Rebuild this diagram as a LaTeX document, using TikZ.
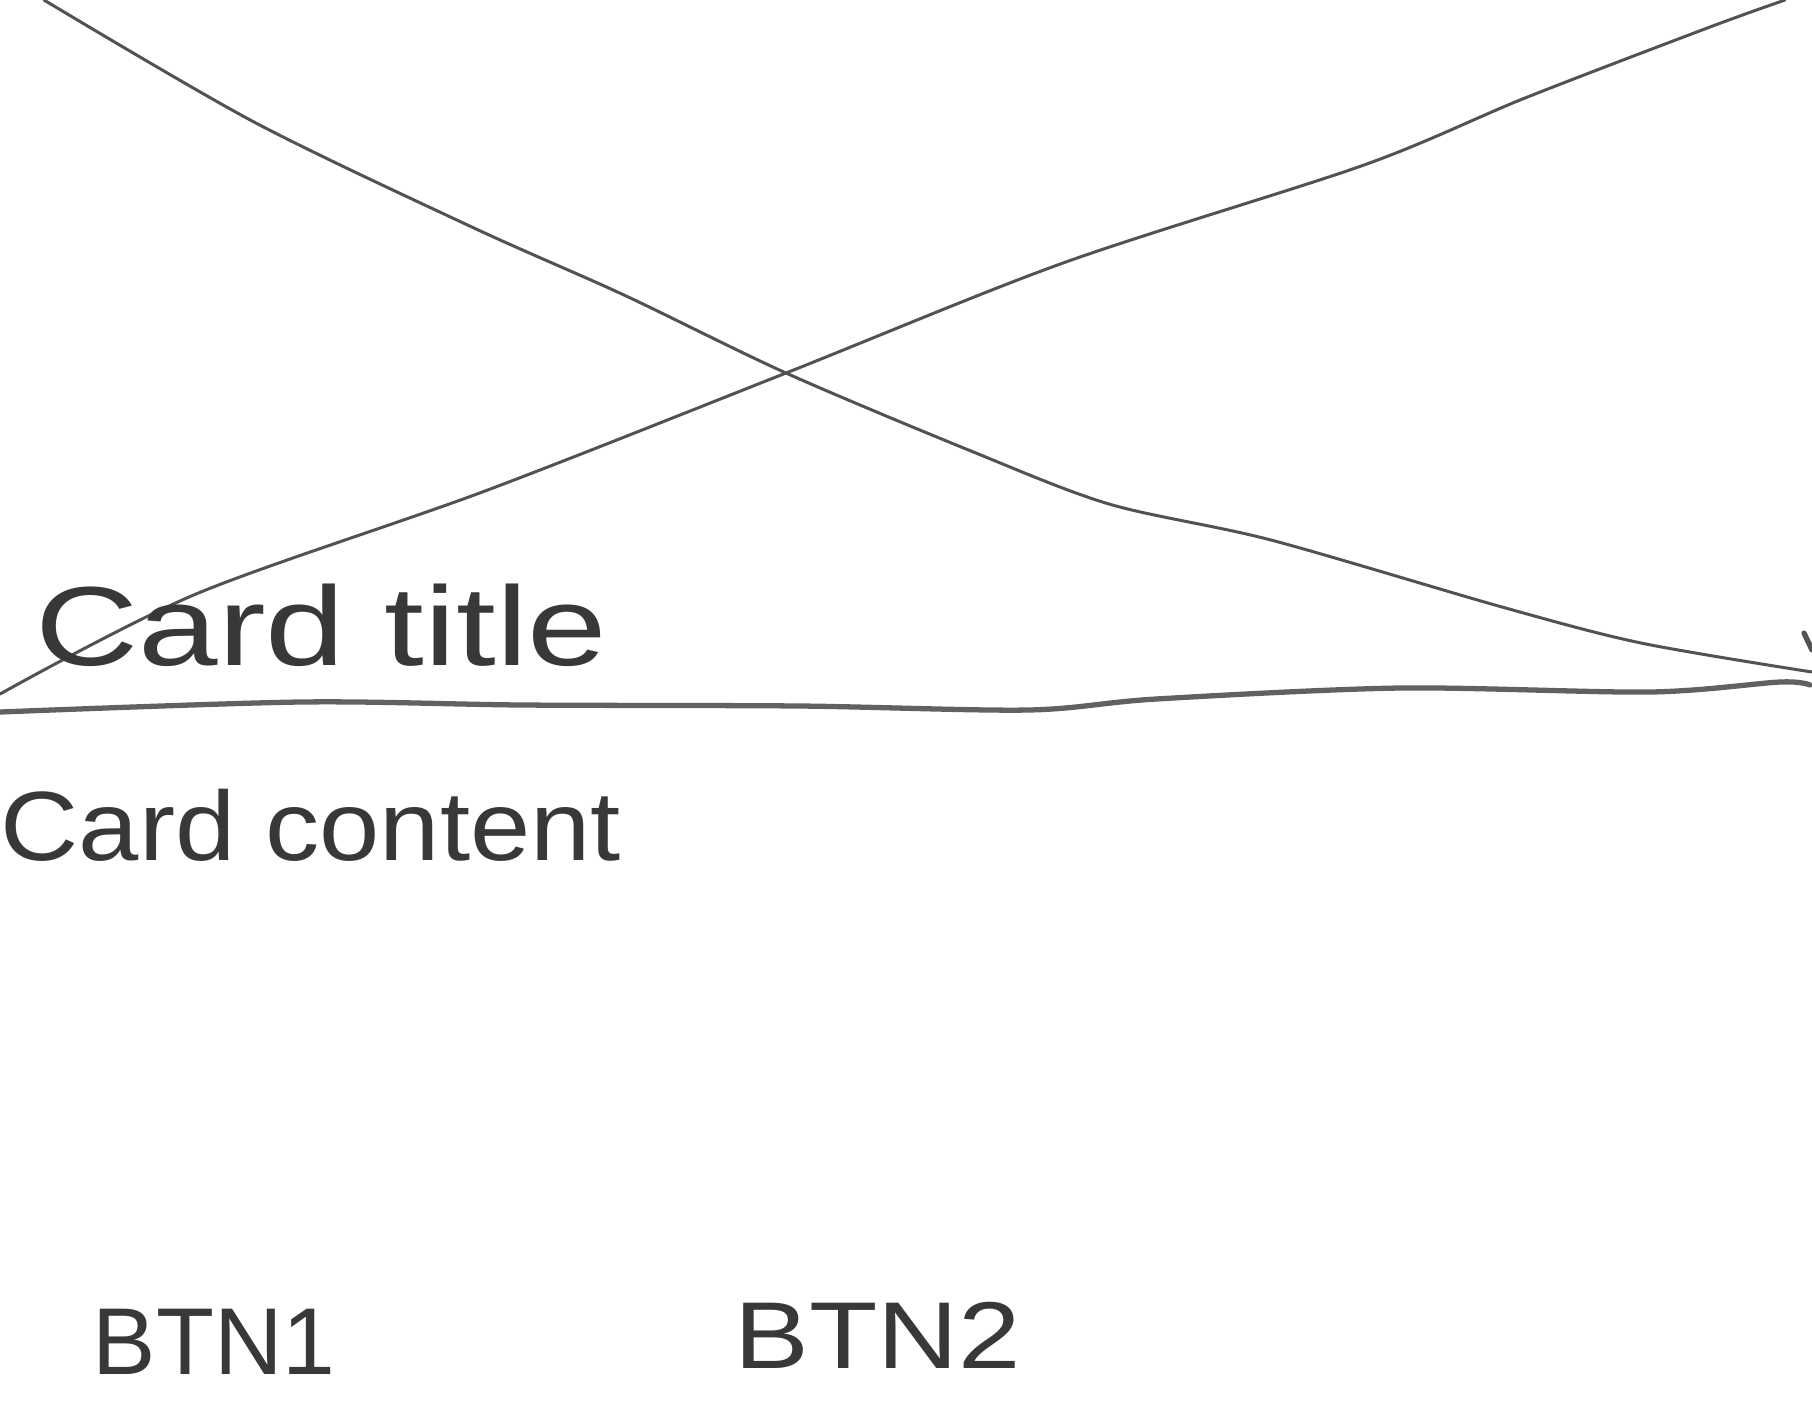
\documentclass[tikz,border=0pt]{standalone}
\usepackage{graphicx}
\usepackage{fontspec}
\setmainfont{Liberation Sans}
\begin{document}
\begin{tikzpicture}[x=0.01cm,y=-0.01cm,
  pencil/.style={draw=black!68,line width=0.85pt,line cap=round,line join=round},
  rule/.style={draw=black!62,line width=1.5pt,line cap=round},
  hand/.style={inner sep=0pt,anchor=base west,text=black!78}]
\useasboundingbox[fill=white] (0,0) rectangle (1812,1411);
% image placeholder cross
\draw[pencil] plot[smooth,tension=0.5] coordinates {(44,0) (254,122) (474,228) (624,295) (786,373) (971,451) (1109,504) (1271,540) (1502,607) (1641,643) (1812,672)};
\draw[pencil] plot[smooth,tension=0.5] coordinates {(0,694) (196,594) (485,491) (786,373) (1063,263) (1364,165) (1525,98) (1710,27) (1785,0)};
% divider
\draw[rule] plot[smooth,tension=0.5] coordinates {(0,712) (300,702) (523,705) (800,706) (1028,710) (1156,699) (1400,688) (1650,692) (1780,682) (1810,685)};
\coordinate (m1) at (1804,633);
\coordinate (m2) at (1812,650);
\draw[pencil,line width=1.5pt] (m1) -- (m2);
% texts
\node[hand,font=\fontsize{32}{36}\selectfont] (title) at (35,665) {\scalebox{1.27}[1]{Card title}};
\node[hand,font=\fontsize{28}{32}\selectfont] (content) at (0,860) {\scalebox{1.1}[1]{Card content}};
\node[hand,font=\fontsize{27}{32}\selectfont] (btn1) at (92,1374) {BTN1};
\node[hand,font=\fontsize{27}{32}\selectfont] (btn2) at (734,1368) {\scalebox{1.18}[1]{BTN2}};
\end{tikzpicture}
\end{document}
